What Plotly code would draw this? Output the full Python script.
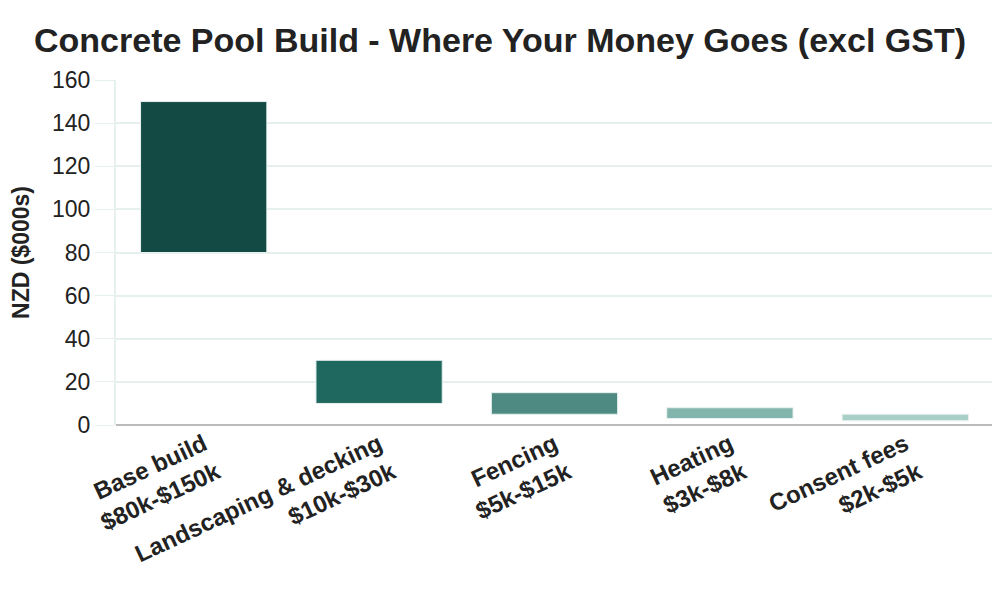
import plotly.graph_objects as go

# Cost items, low and high estimate in NZD thousands
items = ['Base build<br>$80k-$150k', 'Landscaping & decking<br>$10k-$30k',
         'Fencing<br>$5k-$15k', 'Heating<br>$3k-$8k', 'Consent fees<br>$2k-$5k']
low = [80, 10, 5, 3, 2]
high = [150, 30, 15, 8, 5]
colours = ['#144a44', '#1f6860', '#4e8a82', '#82b5ad', '#a8d0c8']

span = [h - l for h, l in zip(high, low)]

fig = go.Figure()
fig.add_trace(go.Bar(x=items, y=span, base=low, width=0.72,
                     marker=dict(color=colours, line=dict(color='#e8f1ef', width=1))))

fig.update_layout(
    title=dict(text='<b>Concrete Pool Build - Where Your Money Goes (excl GST)</b>',
               x=0.492, xanchor='center', y=0.946, yanchor='middle',
               font=dict(size=34, color='#222')),
    font=dict(family='Liberation Sans, Arial, sans-serif', color='#222'),
    width=1000, height=600,
    margin=dict(l=108, r=15, t=72, b=183),
    plot_bgcolor='white', paper_bgcolor='white',
    showlegend=False,
)
fig.update_xaxes(tickangle=-25, tickfont=dict(size=24, color='#222'),
                 tickprefix='<b>', ticksuffix='</b>',
                 automargin=False, showline=False)
fig.update_yaxes(range=[0, 160], dtick=20, gridcolor='#e6f0ee', gridwidth=1.5,
                 zeroline=True, zerolinecolor='#bbbbbb', zerolinewidth=2,
                 showline=True, linecolor='#e6f0ee', linewidth=2,
                 ticks='outside', tickcolor='#e6f0ee', ticklen=19,
                 tickfont=dict(size=23, color='#222'), automargin=False,
                 title=dict(text='<b>NZD ($000s)</b>', font=dict(size=23), standoff=16))

fig.write_html("out.html")
